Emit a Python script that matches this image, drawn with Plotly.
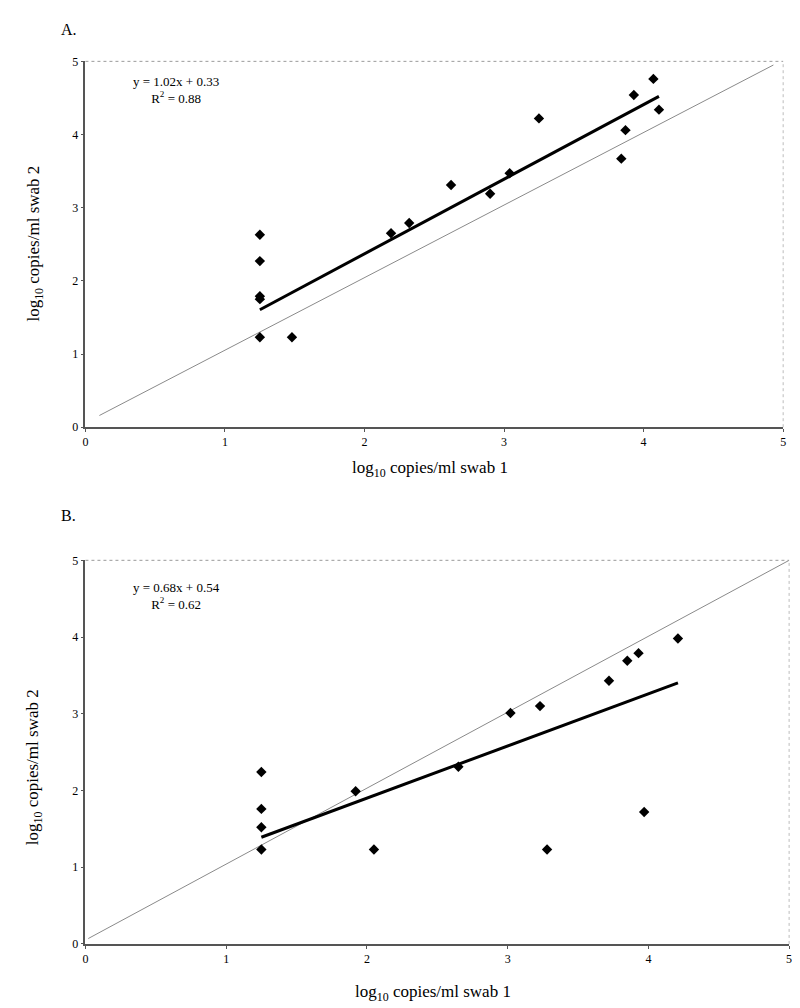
import plotly.graph_objects as go

# Panel A data
a_x = [1.25, 1.25, 1.25, 1.25, 1.25, 1.48, 2.19, 2.32, 2.62, 2.90, 3.04, 3.25, 3.84, 3.87, 3.93, 4.07, 4.11]
a_y = [2.63, 2.27, 1.79, 1.75, 1.23, 1.23, 2.65, 2.79, 3.31, 3.19, 3.47, 4.22, 3.67, 4.06, 4.54, 4.76, 4.34]
a_slope, a_intercept = 1.02, 0.33
a_eq = "y = 1.02x + 0.33<br>R<sup>2</sup> = 0.88"
a_ref_x = [0.10, 4.93]
a_ref_y = [0.16, 4.95]

# Panel B data
b_x = [1.25, 1.25, 1.25, 1.25, 1.92, 2.05, 2.65, 3.02, 3.23, 3.28, 3.72, 3.85, 3.93, 3.97, 4.21]
b_y = [2.24, 1.76, 1.52, 1.23, 1.99, 1.23, 2.31, 3.01, 3.10, 1.23, 3.43, 3.69, 3.79, 1.72, 3.98]
b_slope, b_intercept = 0.68, 0.54
b_eq = "y = 0.68x + 0.54<br>R<sup>2</sup> = 0.62"
b_ref_x = [0.02, 5.0]
b_ref_y = [0.07, 5.0]

tick_vals = [0, 1, 2, 3, 4, 5]
x_title = "log<sub>10</sub> copies/ml swab 1"
y_title = "log<sub>10</sub> copies/ml swab 2"

FONT = "Liberation Serif, Times New Roman, serif"
W, H = 800, 1008

fig = go.Figure()

panels = [
    dict(x=a_x, y=a_y, m=a_slope, c=a_intercept, eq=a_eq, rx=a_ref_x, ry=a_ref_y,
         xa="x", ya="y", xdom=[75 / W, 778 / W], ydom=[1 - 418 / H, 1 - 47 / H],
         label="A.", label_y=15, xt_y=460, yt_y=232, eq_y=(4.68 + 4.53) / 2),
    dict(x=b_x, y=b_y, m=b_slope, c=b_intercept, eq=b_eq, rx=b_ref_x, ry=b_ref_y,
         xa="x2", ya="y2", xdom=[75 / W, 784 / W], ydom=[1 - 942 / H, 1 - 553 / H],
         label="B.", label_y=508, xt_y=992, yt_y=763, eq_y=(4.62 + 4.44) / 2),
]

annotations = []
shapes = []
for i, p in enumerate(panels):
    # reference (identity) line
    fig.add_trace(go.Scatter(x=p["rx"], y=p["ry"], mode="lines",
                             line=dict(color="#8a8a8a", width=1),
                             xaxis=p["xa"], yaxis=p["ya"], showlegend=False, hoverinfo="skip"))
    # regression line
    xmin, xmax = min(p["x"]), max(p["x"])
    fig.add_trace(go.Scatter(x=[xmin, xmax], y=[p["m"] * xmin + p["c"], p["m"] * xmax + p["c"]],
                             mode="lines", line=dict(color="black", width=3),
                             xaxis=p["xa"], yaxis=p["ya"], showlegend=False))
    # points
    fig.add_trace(go.Scatter(x=p["x"], y=p["y"], mode="markers",
                             marker=dict(symbol="diamond", size=8, color="black"),
                             xaxis=p["xa"], yaxis=p["ya"], showlegend=False))
    xref = p["xa"]
    yref = p["ya"]
    annotations.append(dict(x=0.65, y=p["eq_y"], xref=xref, yref=yref, text=p["eq"],
                            showarrow=False, font=dict(family=FONT, size=13, color="black"),
                            align="center"))
    annotations.append(dict(x=48 / W, y=1 - p["label_y"] / H, xref="paper", yref="paper",
                            text=p["label"], showarrow=False, xanchor="left", yanchor="middle",
                            font=dict(family=FONT, size=16, color="black")))
    annotations.append(dict(x=(p["xdom"][0] + p["xdom"][1]) / 2 - 0.005, y=1 - p["xt_y"] / H,
                            xref="paper", yref="paper", text=x_title, showarrow=False,
                            yanchor="middle", font=dict(family=FONT, size=17, color="black")))
    annotations.append(dict(x=24 / W, y=1 - p["yt_y"] / H, xref="paper", yref="paper",
                            text=y_title, showarrow=False, textangle=-90,
                            xanchor="center", yanchor="middle",
                            font=dict(family=FONT, size=17, color="black")))
    # dotted top & right border
    dref_x = ("x" if i == 0 else "x2") + " domain"
    dref_y = ("y" if i == 0 else "y2") + " domain"
    shapes.append(dict(type="line", xref=dref_x, yref=dref_y, x0=0, x1=1, y0=1, y1=1,
                       line=dict(color="#9a9a9a", width=1, dash="dot")))
    shapes.append(dict(type="line", xref=dref_x, yref=dref_y, x0=1, x1=1, y0=0, y1=1,
                       line=dict(color="#bdbdbd", width=1, dash="dot")))

axis_common = dict(range=[0, 5], tickvals=tick_vals, showgrid=False, zeroline=False,
                   showline=True, linecolor="#555555", linewidth=1.5, ticks="outside",
                   ticklen=3, tickcolor="#555555",
                   tickfont=dict(family=FONT, size=12, color="black"))

fig.update_layout(
    width=W, height=H, plot_bgcolor="white", paper_bgcolor="white",
    margin=dict(l=0, r=0, t=0, b=0),
    xaxis=dict(domain=panels[0]["xdom"], anchor="y", **axis_common),
    yaxis=dict(domain=panels[0]["ydom"], anchor="x", **axis_common),
    xaxis2=dict(domain=panels[1]["xdom"], anchor="y2", **axis_common),
    yaxis2=dict(domain=panels[1]["ydom"], anchor="x2", **axis_common),
    annotations=annotations, shapes=shapes,
)

fig.write_html("out.html")
